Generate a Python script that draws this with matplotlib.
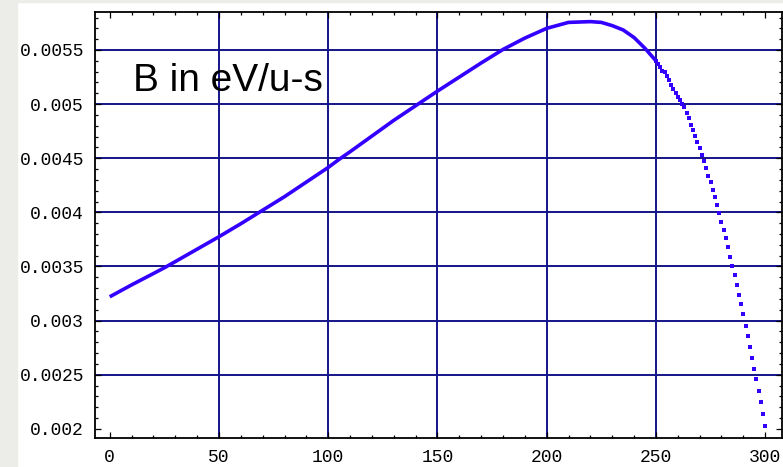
import matplotlib
matplotlib.use("Agg")
import matplotlib.pyplot as plt
from matplotlib.patches import Rectangle
from matplotlib.ticker import FixedLocator, MultipleLocator

# smooth (dense) part of the curve
x_smooth = [0, 10, 20, 25, 30, 40, 50, 60, 70, 80, 90, 100, 105, 110, 120,
            130, 140, 150, 160, 170, 180, 190, 200, 210, 220, 225, 230, 235,
            240, 245, 250]
y_smooth = [0.003220, 0.003330, 0.003435, 0.003488, 0.003545, 0.003660,
            0.003775, 0.003895, 0.004020, 0.004145, 0.004280, 0.004415,
            0.004490, 0.004560, 0.004705, 0.004850, 0.004985, 0.005120,
            0.005250, 0.005380, 0.005505, 0.005610, 0.005700, 0.005755,
            0.005762, 0.005755, 0.005725, 0.005685, 0.005615, 0.005515,
            0.005400]

# separate dots on the steep fall
x_dots = list(range(250, 301))
y_dots = [0.00540, 0.00537, 0.00534, 0.00531, 0.00530, 0.00526, 0.00522,
          0.00518, 0.00514, 0.00510, 0.00507, 0.00504, 0.00500, 0.00497,
          0.00492, 0.00487, 0.00481, 0.00476, 0.00471, 0.00465, 0.00459,
          0.00453, 0.00447, 0.00441, 0.00434, 0.00428, 0.00421, 0.00414,
          0.00407, 0.00399, 0.00391, 0.00384, 0.00376, 0.00368, 0.00359,
          0.00350, 0.00342, 0.00333, 0.00324, 0.00315, 0.00306, 0.00295,
          0.00286, 0.00276, 0.00265, 0.00255, 0.00246, 0.00235, 0.00225,
          0.00214, 0.00203]

x_ticks = [0, 50, 100, 150, 200, 250, 300]
x_labels = ["0", "50", "100", "150", "200", "250", "300"]
y_ticks = [0.002, 0.0025, 0.003, 0.0035, 0.004, 0.0045, 0.005, 0.0055]
y_labels = ["0.002", "0.0025", "0.003", "0.0035", "0.004", "0.0045",
            "0.005", "0.0055"]
x_grid = [50, 100, 150, 200, 250]
y_grid = [0.0025, 0.003, 0.0035, 0.004, 0.0045, 0.005, 0.0055]

curve_color = "#3300ff"
grid_color = "#14148a"

W, H = 783, 467
fig = plt.figure(figsize=(W / 100, H / 100), dpi=100, facecolor="white")

# light grey slide background strips
fig.patches.append(Rectangle((0, 0), 17 / W, 1, transform=fig.transFigure,
                             color="#ecece8", zorder=0))
fig.patches.append(Rectangle((0, 1 - 2 / H), 1, 2 / H,
                             transform=fig.transFigure, color="#ecece8",
                             zorder=0))

ax = fig.add_axes([95 / W, 1 - 437.5 / H, (782 - 95) / W, (437.5 - 12) / H])
ax.set_xlim(-6.75, 307.7)
ax.set_ylim(0.00192, 0.005851)

for gx in x_grid:
    ax.axvline(gx, color=grid_color, lw=1.4, zorder=1)
for gy in y_grid:
    ax.axhline(gy, color=grid_color, lw=1.4, zorder=1)

ax.plot(x_smooth, y_smooth, color=curve_color, lw=2.6,
        solid_capstyle="butt", zorder=3)
ax.plot(x_dots, y_dots, linestyle="none", marker="s", markersize=2.6,
        color=curve_color, markeredgewidth=0, zorder=3)

ax.xaxis.set_major_locator(FixedLocator(x_ticks))
ax.xaxis.set_minor_locator(MultipleLocator(10))
ax.yaxis.set_major_locator(FixedLocator(y_ticks))
ax.yaxis.set_minor_locator(MultipleLocator(0.0001))
ax.set_xticklabels(x_labels)
ax.set_yticklabels(y_labels)

ax.tick_params(which="both", direction="in", top=True, right=True,
               color="black", width=0.9)
ax.tick_params(which="major", length=4)
ax.tick_params(which="minor", length=2.5)
ax.tick_params(axis="x", pad=8)
ax.tick_params(axis="y", pad=8)
for lab in ax.get_xticklabels() + ax.get_yticklabels():
    lab.set_fontfamily("Liberation Mono")
    lab.set_fontsize(13)

for sp in ax.spines.values():
    sp.set_linewidth(1.3)
    sp.set_color("black")

fig.text(133 / W, 1 - 91 / H, "B in eV/u-s", fontsize=28,
         fontfamily="Liberation Sans", va="baseline", ha="left", zorder=5)

plt.savefig("out.png", dpi=100, facecolor=fig.get_facecolor())
